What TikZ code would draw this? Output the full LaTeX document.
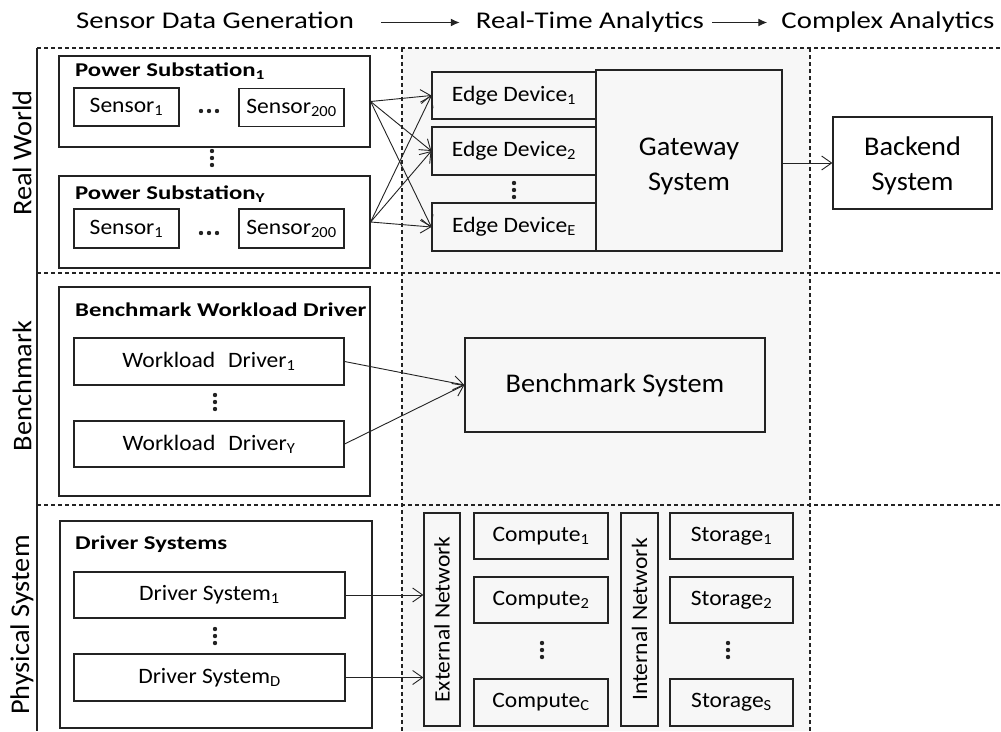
\documentclass[tikz,border=0pt]{standalone}
\usepackage{fontspec}
\setmainfont{Carlito}
\newfontfamily\fHdr{Carlito}[FakeStretch=1.2]
\newfontfamily\fTtl{Carlito}[FakeStretch=1.27]
\newfontfamily\fBox{Carlito}[FakeStretch=1.07]
\newfontfamily\fBig{Carlito}[FakeStretch=1.05]
\usetikzlibrary{arrows.meta}
\definecolor{bggrey}{RGB}{247,247,247}
\definecolor{ln}{RGB}{35,35,35}
\newcommand{\sbs}[1]{\textsubscript{#1}}
\newcommand{\vdts}[2]{\fill[ln] (#1,#2-7) circle (2.2) (#1,#2) circle (2.2) (#1,#2+7) circle (2.2);}
\newcommand{\hdts}[2]{\fill[ln] (#1-8,#2) circle (2.2) (#1,#2) circle (2.2) (#1+8,#2) circle (2.2);}
\begin{document}
\begin{tikzpicture}[x=1pt,y=-1pt,
  box/.style={draw=ln, line width=1.2pt, inner sep=0pt, align=center, font=\fBox\fontsize{22}{26}\selectfont},
  bigbox/.style={box, font=\fBig\fontsize{27}{35}\selectfont},
  sz/.style 2 args={minimum width=#1pt, minimum height=#2pt},
  ttl/.style={anchor=base west, inner sep=0pt, font=\fTtl\bfseries\fontsize{19.5}{22}\selectfont},
  hdr/.style={anchor=base, inner sep=0pt, text height=16pt, text depth=5pt, font=\fHdr\fontsize{24}{26}\selectfont},
  rowlbl/.style={rotate=90, inner sep=0pt, font=\fBig\fontsize{27}{30}\selectfont},
  sep/.style={draw=ln, line width=1.1pt, dash pattern=on 4pt off 3pt},
  conn/.style={draw=ln, line width=0.9pt, -{Straight Barb[length=10pt,width=14pt]}},
  harrow/.style={draw=ln, line width=1.4pt, -{Latex[length=9pt,width=8pt]}}
]
\useasboundingbox (0,0) rectangle (1001,731);
\fill[bggrey] (402,48) rectangle (810,731);

% header
\node[hdr] (h1) at (215,28) {Sensor Data Generation};
\node[hdr] (h2) at (590,28) {Real-Time Analytics};
\node[hdr] (h3) at (888,28) {Complex Analytics};
\draw[harrow, shorten <=27pt, shorten >=16pt] (h1.east) -- (h2.west);
\draw[harrow, shorten <=8pt, shorten >=14pt] (h2.east) -- (h3.west);

% frame and separators
\draw[sep] (37,48) -- (1001,48);
\draw[sep] (37,273) -- (1001,273);
\draw[sep] (37,505) -- (1001,505);
\draw[sep] (402,48) -- (402,731);
\draw[sep] (810,48) -- (810,731);
\draw[ln, line width=1.2pt] (37,48) -- (37,731);

% row labels
\node[rowlbl] (r1) at (22,153) {Real World};
\node[rowlbl] (r2) at (22,386) {Benchmark};
\node[rowlbl] (r3) at (22,625) {Physical System};

% real world
\node[box, sz={311}{91}] (ps1) at (214.5,101.5) {};
\node[ttl] (ps1t) at (75,76) {Power Substation\sbs{1}};
\node[box, sz={105}{38}] (s11) at (126.5,107) {Sensor\sbs{1}};
\node[box, sz={105}{38}] (s12) at (291.5,107.5) {Sensor\sbs{200}};
\hdts{209}{111}
\vdts{212}{158}
\node[box, sz={311}{92}] (psY) at (214.5,222) {};
\node[ttl] (psYt) at (75,199) {Power Substation\sbs{Y}};
\node[box, sz={105}{39}] (sY1) at (126.5,228.5) {Sensor\sbs{1}};
\node[box, sz={105}{39}] (sY2) at (291.5,228.5) {Sensor\sbs{200}};
\hdts{209}{233}

\node[box, sz={164}{47}] (ed1) at (514,95.5) {Edge Device\sbs{1}};
\node[box, sz={164}{48}] (ed2) at (514,151) {Edge Device\sbs{2}};
\node[box, sz={164}{48}] (edE) at (514,227) {Edge Device\sbs{E}};
\vdts{514}{190}
\node[bigbox, sz={186}{181}, text height=64pt] (gw) at (689,160.5) {Gateway\\System};
\node[bigbox, sz={159}{92}, text height=60pt] (bk) at (912.5,163) {Backend\\System};

\foreach \s in {ps1,psY}
  \foreach \t in {ed1,ed2,edE}
    \draw[conn] (\s.east) -- (\t.west);
\draw[conn] (bk.west -| gw.east) -- (bk.west);

% benchmark
\node[box, sz={311}{209}] (bwd) at (214.5,391.5) {};
\node[ttl] (bwdt) at (75,316) {Benchmark Workload Driver};
\node[box, sz={270}{47}] (wd1) at (209,361.5) {Workload\hspace{0.35em} Driver\sbs{1}};
\node[box, sz={270}{46}] (wdY) at (209,444) {Workload\hspace{0.35em} Driver\sbs{Y}};
\vdts{215}{402}
\node[bigbox, sz={300}{94}] (bs) at (615,385) {Benchmark System};
\draw[conn] (wd1.east) -- (bs.west);
\draw[conn] (wdY.east) -- (bs.west);

% physical system
\node[box, sz={312}{207}] (dsys) at (216,624.5) {};
\node[ttl] (dsyst) at (75,549) {Driver Systems};
\node[box, sz={271}{46}] (ds1) at (209.5,595) {Driver System\sbs{1}};
\node[box, sz={271}{47}] (dsD) at (209.5,677.5) {Driver System\sbs{D}};
\vdts{215}{636}

\node[box, sz={36}{213}] (ext) at (442,619.5) {\rotatebox{90}{External Network}};
\node[box, sz={134}{46}] (c1) at (541,536) {Compute\sbs{1}};
\node[box, sz={134}{46}] (c2) at (541,600) {Compute\sbs{2}};
\node[box, sz={134}{47}] (cC) at (541,702.5) {Compute\sbs{C}};
\vdts{542}{650}
\node[box, sz={37}{213}] (int) at (639.5,619.5) {\rotatebox{90}{Internal Network}};
\node[box, sz={123}{46}] (st1) at (731.5,536) {Storage\sbs{1}};
\node[box, sz={123}{46}] (st2) at (731.5,600) {Storage\sbs{2}};
\node[box, sz={123}{47}] (stS) at (731.5,702.5) {Storage\sbs{S}};
\vdts{728}{650}

\draw[conn] (ds1.east) -- (ds1.east -| ext.west);
\draw[conn] (dsD.east) -- (dsD.east -| ext.west);
\end{tikzpicture}
\end{document}
